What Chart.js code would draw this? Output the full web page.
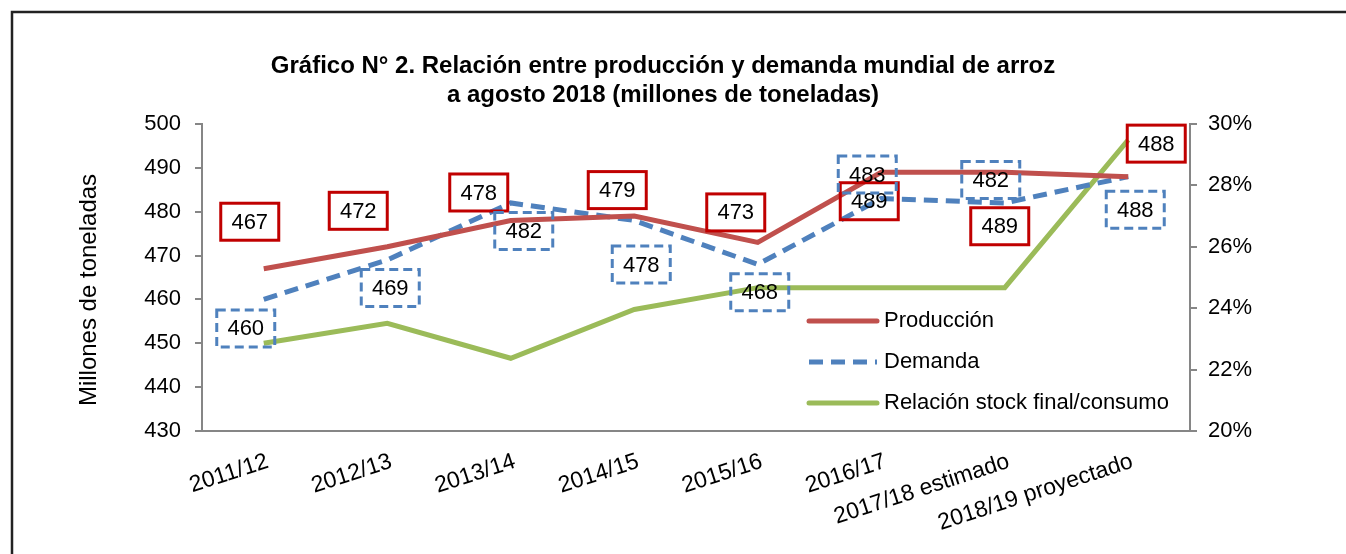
<!DOCTYPE html>
<html><head><meta charset="utf-8">
<script src="https://cdn.jsdelivr.net/npm/chart.js@4/dist/chart.umd.min.js"></script>
<style>html,body{margin:0;padding:0;background:#fff;} #wrap{width:1346px;height:554px;}</style>
</head><body><div id="wrap"><canvas id="c" width="1346" height="554"></canvas></div>
<script>
const categories = ['2011/12','2012/13','2013/14','2014/15','2015/16','2016/17','2017/18 estimado','2018/19 proyectado'];
const produccion = [467,472,478,479,473,489,489,488];
const demanda = [460,469,482,478,468,483,482,488];
const relacionStock = [22.86,23.51,22.37,23.96,24.67,24.67,24.67,29.48];
const produccionLabels = ['467','472','478','479','473','489','489','488'];
const demandaLabels = ['460','469','482','478','468','483','482','488'];
const leftAxis = {min:430, max:500, step:10};
const rightAxis = {min:20, max:30, step:2};
const titleLines = ['Gráfico N° 2. Relación entre producción y demanda mundial de arroz','a agosto 2018 (millones de toneladas)'];
const yTitle = 'Millones de toneladas';
const seriesNames = ['Producción','Demanda','Relación stock final/consumo'];

const RED='#C0504D', BLUE='#4F81BD', GREEN='#9BBB59', AXIS='#868686';
const FONT='"Liberation Sans", Arial, sans-serif';
// label box offsets relative to the point (pixels)
const prodOff = [[-14,-47],[-29,-36],[-32,-28],[-17,-26],[-22,-30],[-12,29],[-5,54],[28,-33]];
const demOff = [[-18,29],[3,28],[13,28],[7,44],[2,28],[-14,-24],[-14,-23],[7,33]];

const decor = {
  id:'decor',
  beforeDraw(chart){
    const ctx=chart.ctx;
    ctx.save();
    ctx.fillStyle='#fff';ctx.fillRect(0,0,chart.width,chart.height);
    ctx.strokeStyle='#222';ctx.lineWidth=2.5;
    ctx.strokeRect(12,12,1400,600);
    ctx.restore();
  },
  afterDatasetsDraw(chart){
    const ctx=chart.ctx;
    ctx.save();
    // title
    ctx.fillStyle='#000';
    ctx.font='bold 24px '+FONT;
    ctx.textAlign='center';ctx.textBaseline='middle';
    ctx.fillText(titleLines[0],663,66);
    ctx.fillText(titleLines[1],663,95);
    // y title
    ctx.save();
    ctx.translate(89,290);ctx.rotate(-Math.PI/2);
    ctx.font='24px '+FONT;
    ctx.fillText(yTitle,0,0);
    ctx.restore();
    // label boxes
    const drawBoxes=(dsIndex,labels,offs,color,dashed)=>{
      const meta=chart.getDatasetMeta(dsIndex);
      meta.data.forEach((pt,i)=>{
        const cx=pt.x+offs[i][0], cy=pt.y+offs[i][1];
        const w=58,h=37;
        ctx.save();
        ctx.lineWidth=3;ctx.strokeStyle=color;
        if(dashed){ctx.setLineDash([9,5]);}
        ctx.strokeRect(cx-w/2,cy-h/2,w,h);
        ctx.restore();
        ctx.fillStyle='#000';
        ctx.font='22px '+FONT;
        ctx.textAlign='center';ctx.textBaseline='middle';
        ctx.fillText(labels[i],cx,cy+1);
      });
    };
    drawBoxes(0,produccionLabels,prodOff,'#C00000',false);
    drawBoxes(1,demandaLabels,demOff,BLUE,true);
    // legend
    const items=[[RED,[],321],[BLUE,[14,8],362],[GREEN,[],403]];
    items.forEach((it,i)=>{
      ctx.save();
      ctx.strokeStyle=it[0];ctx.lineWidth=5;ctx.lineCap='round';ctx.setLineDash(it[1]);
      if(it[1].length) ctx.lineCap='butt';
      ctx.beginPath();ctx.moveTo(809,it[2]);ctx.lineTo(877,it[2]);ctx.stroke();
      ctx.restore();
      ctx.fillStyle='#000';ctx.font='22px '+FONT;
      ctx.textAlign='left';ctx.textBaseline='middle';
      ctx.fillText(seriesNames[i],884,it[2]);
    });
    ctx.restore();
  }
};

const tickFont={family:FONT,size:22};
new Chart(document.getElementById('c'),{
  type:'line',
  data:{labels:categories,datasets:[
    {label:seriesNames[0],data:produccion,yAxisID:'y',borderColor:RED,borderWidth:5,pointRadius:0,tension:0,fill:false},
    {label:seriesNames[1],data:demanda,yAxisID:'y',borderColor:BLUE,borderWidth:5,borderDash:[14,8],pointRadius:0,tension:0,fill:false},
    {label:seriesNames[2],data:relacionStock,yAxisID:'y1',borderColor:GREEN,borderWidth:5,pointRadius:0,tension:0,fill:false}
  ]},
  options:{
    responsive:false,animation:false,devicePixelRatio:1,
    layout:{padding:{top:124,left:0,right:0,bottom:0}},
    plugins:{legend:{display:false},title:{display:false},tooltip:{enabled:false}},
    scales:{
      x:{offset:true,grid:{display:false},border:{color:AXIS,width:2},
         ticks:{font:{family:FONT,size:23},color:'#000',minRotation:18,maxRotation:18,autoSkip:false,padding:9,labelOffset:4},
         afterFit(s){s.height=554-431;}},
      y:{position:'left',min:leftAxis.min,max:leftAxis.max,
         ticks:{stepSize:leftAxis.step,font:tickFont,color:'#000',padding:14},
         grid:{display:true,drawOnChartArea:false,tickLength:7,color:AXIS,lineWidth:2},
         border:{color:AXIS,width:2},
         afterFit(s){s.width=202;}},
      y1:{position:'right',min:rightAxis.min,max:rightAxis.max,
         ticks:{stepSize:rightAxis.step,font:tickFont,color:'#000',padding:11,callback:v=>v+'%'},
         grid:{display:true,drawOnChartArea:false,tickLength:7,color:AXIS,lineWidth:2},
         border:{color:AXIS,width:2},
         afterFit(s){s.width=1346-1190;}}
    }
  },
  plugins:[decor]
});
</script></body></html>
